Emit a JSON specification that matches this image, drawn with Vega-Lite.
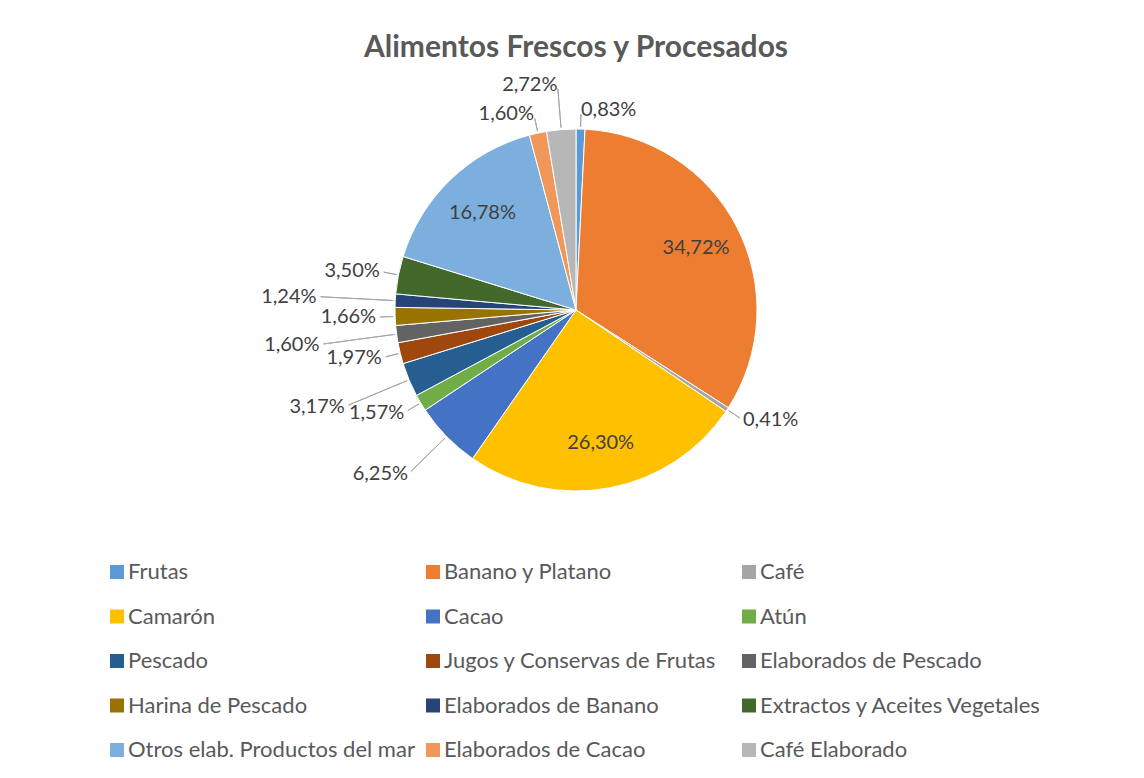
{
  "$schema": "https://vega.github.io/schema/vega-lite/v6.json",
  "width": 1136,
  "height": 608,
  "autosize": {"type": "pad"},
  "padding": {"left": 8, "top": 6, "right": 0, "bottom": 0},
  "background": "#FFFFFF",
  "title": {
    "text": "Alimentos Frescos y Procesados",
    "anchor": "middle",
    "frame": "group",
    "offset": -51,
    "dy": 30,
    "baseline": "alphabetic",
    "font": "Lato",
    "fontSize": 30,
    "fontWeight": "bold",
    "color": "#595959"
  },
  "data": {
    "values": [
      {"categoria": "Frutas", "orden": 0, "valor": 0.83, "etiqueta": "0,83%"},
      {"categoria": "Banano y Platano", "orden": 1, "valor": 34.72, "etiqueta": "34,72%"},
      {"categoria": "Café", "orden": 2, "valor": 0.41, "etiqueta": "0,41%"},
      {"categoria": "Camarón", "orden": 3, "valor": 26.30, "etiqueta": "26,30%"},
      {"categoria": "Cacao", "orden": 4, "valor": 6.25, "etiqueta": "6,25%"},
      {"categoria": "Atún", "orden": 5, "valor": 1.57, "etiqueta": "1,57%"},
      {"categoria": "Pescado", "orden": 6, "valor": 3.17, "etiqueta": "3,17%"},
      {"categoria": "Jugos y Conservas de Frutas", "orden": 7, "valor": 1.97, "etiqueta": "1,97%"},
      {"categoria": "Elaborados de Pescado", "orden": 8, "valor": 1.60, "etiqueta": "1,60%"},
      {"categoria": "Harina de Pescado", "orden": 9, "valor": 1.66, "etiqueta": "1,66%"},
      {"categoria": "Elaborados de Banano", "orden": 10, "valor": 1.24, "etiqueta": "1,24%"},
      {"categoria": "Extractos y Aceites Vegetales", "orden": 11, "valor": 3.50, "etiqueta": "3,50%"},
      {"categoria": "Otros elab. Productos del mar", "orden": 12, "valor": 16.78, "etiqueta": "16,78%"},
      {"categoria": "Elaborados de Cacao", "orden": 13, "valor": 1.60, "etiqueta": "1,60%"},
      {"categoria": "Café Elaborado", "orden": 14, "valor": 2.72, "etiqueta": "2,72%"}
    ]
  },
  "encoding": {
    "theta": {"field": "valor", "type": "quantitative", "stack": true},
    "order": {"field": "orden", "type": "quantitative"},
    "color": {
      "field": "categoria",
      "type": "nominal",
      "scale": {
        "domain": ["Frutas", "Camarón", "Pescado", "Harina de Pescado", "Otros elab. Productos del mar", "Banano y Platano", "Cacao", "Jugos y Conservas de Frutas", "Elaborados de Banano", "Elaborados de Cacao", "Café", "Atún", "Elaborados de Pescado", "Extractos y Aceites Vegetales", "Café Elaborado"],
        "range": ["#5B9BD5", "#FFC000", "#255E91", "#997300", "#7CAFDD", "#ED7D31", "#4472C4", "#9E480E", "#264478", "#F1975A", "#A5A5A5", "#70AD47", "#636363", "#43682B", "#B7B7B7"]
      },
      "legend": {
        "title": null,
        "orient": "none",
        "legendX": 98,
        "legendY": 555,
        "columns": 3,
        "gridAlign": "all",
        "columnPadding": 7,
        "rowPadding": 22.5,
        "padding": 0,
        "symbolType": "square",
        "symbolSize": 196,
        "symbolStrokeWidth": 0,
        "labelFont": "Lato",
        "labelFontSize": 22,
        "labelColor": "#595959",
        "labelLimit": 400,
        "labelOffset": 0
      }
    }
  },
  "layer": [
    {
      "mark": {"type": "arc", "outerRadius": 181, "stroke": "#FFFFFF", "strokeWidth": 1}
    },
    {
      "mark": {
        "type": "arc",
        "filled": false,
        "padAngle": 3.14,
        "innerRadius": 183,
        "outerRadius": {"expr": "datum.valor > 10 ? 183 : ((datum.orden % 2 == 1 || datum.valor_start + datum.valor_end < 104.32) ? 196 : 222 + 34 * pow(max(0, -sin(PI * (datum.valor_start + datum.valor_end) / 104.32)), 4))"},
        "strokeWidth": 1
      },
      "encoding": {"color": {"value": "#A6A6A6"}}
    },
    {
      "mark": {
        "type": "text",
        "radius": {"expr": "datum.valor > 10 ? 135 : ((datum.orden % 2 == 1 || datum.valor_start + datum.valor_end < 104.32) ? 200 : 226 + 34 * pow(max(0, -sin(PI * (datum.valor_start + datum.valor_end) / 104.32)), 4))"},
        "align": {"expr": "datum.valor > 10 ? 'center' : (datum.valor_start + datum.valor_end < 104.32 ? 'left' : 'right')"},
        "baseline": "middle",
        "font": "Lato",
        "fontSize": 20
      },
      "encoding": {
        "text": {"field": "etiqueta"},
        "color": {"value": "#404040"}
      }
    }
  ],
  "config": {
    "view": {"stroke": null}
  }
}
